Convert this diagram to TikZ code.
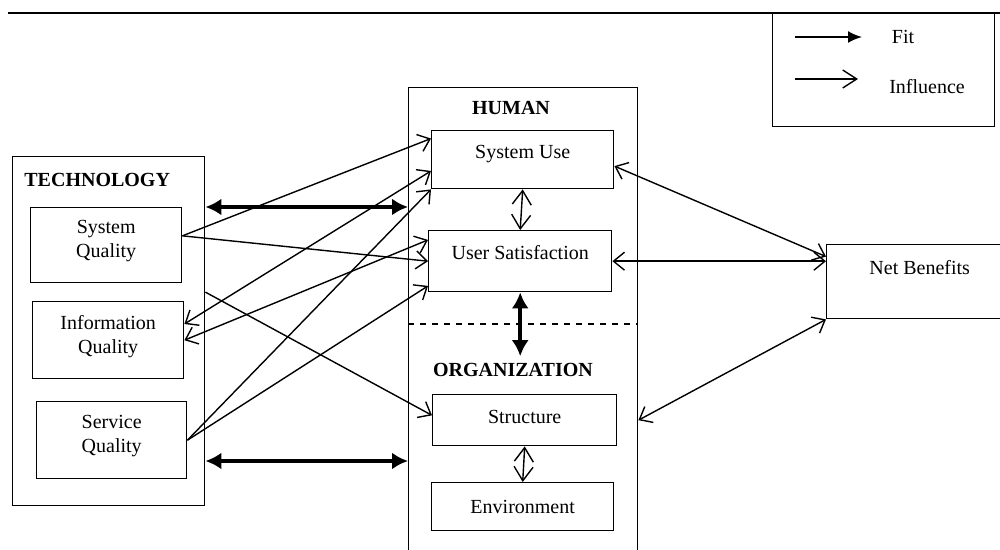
\documentclass[tikz,border=0pt]{standalone}
\usepackage{fontspec}
\setmainfont{Liberation Serif}
\usetikzlibrary{arrows.meta}
\tikzset{
	box/.style={draw, line width=0.7pt, inner sep=2pt, align=center, anchor=north west},
	qbox/.style={box, text depth=6pt},
	title/.style={font=\bfseries},
	fitarrow/.style={line width=2.2pt, {Latex[length=8pt,width=8.5pt]}-{Latex[length=8pt,width=8.5pt]}},
	inflarrow/.style={line width=0.7pt, -{Straight Barb[length=5.5pt,width=9pt]}},
	inflboth/.style={line width=0.7pt, {Straight Barb[length=5.5pt,width=9pt]}-{Straight Barb[length=5.5pt,width=9pt]}},
	linkarrow/.style={line width=0.7pt, {Straight Barb[length=7pt,width=9.5pt]}-{Straight Barb[length=7pt,width=9.5pt]}},
}
\begin{document}
\begin{tikzpicture}[x=0.5pt,y=0.5pt,yscale=-1]
			\useasboundingbox (0,0) rectangle (1000,550);

			%Straight Lines: top rule
			\draw [line width=1.1pt] (8,13) -- (1000,13);

			%Shape: Rectangle [legend]
			\node (legend) [box, minimum width=111pt, minimum height=56.5pt] at (772,13) {};
			\coordinate (fitA) at (795,37);
			\coordinate (fitB) at (862,37);
			\draw [line width=1pt, -{Latex[length=7pt,width=6pt]}] (fitA) -- (fitB);
			\coordinate (inflA) at (795,79);
			\coordinate (inflB) at (858,79);
			\draw [line width=0.7pt, -{Straight Barb[length=7pt,width=9pt]}] (inflA) -- (inflB);
			% Text Node
			\node (fitlabel) at (903,37) {Fit};
			% Text Node
			\node (infllabel) at (927,87) {Influence};

			%Shape: Rectangle [technology]
			\node (tech) [box, minimum width=96pt, minimum height=174.5pt] at (12,156) {};
			% Text Node
			\node (techtitle) [title, anchor=west, inner sep=0pt] at (24,180) {TECHNOLOGY};
			\node (sysq) [qbox, minimum width=75.5pt, minimum height=37.5pt] at (30,207) {System\\Quality};
			\node (infoq) [qbox, minimum width=75.5pt, minimum height=38.5pt] at (32,301) {Information\\Quality};
			\node (servq) [qbox, minimum width=75pt, minimum height=38.5pt] at (36,401) {Service\\Quality};

			%Shape: Rectangle [human / organization]
			\node (humorg) [box, minimum width=114.5pt, minimum height=236.5pt] at (408,87) {};
			% Text Node
			\node (humantitle) [title] at (511,108) {HUMAN};
			\node (sysuse) [box, minimum width=91pt, minimum height=29pt, text depth=8.2pt] at (431,130) {System Use};
			\node (usersat) [box, minimum width=91.5pt, minimum height=30.5pt, text depth=8.5pt] at (428,230) {User Satisfaction};
			%Straight Lines [human / organization split]
			\draw [dashed, line width=0.7pt] (humorg.west) -- (humorg.east);
			% Text Node
			\node (orgtitle) [title] at (513,370) {ORGANIZATION};
			\node (struct) [box, minimum width=92pt, minimum height=25.5pt, text depth=3.5pt] at (432,394) {Structure};
			\node (env) [box, minimum width=91pt, minimum height=24pt] at (431,482) {Environment};

			%Shape: Rectangle [net benefits]
			\node (netben) [box, minimum width=93pt, minimum height=37pt, text depth=14pt] at (826,244) {Net Benefits};

			%Fit arrows
			\coordinate (fitlow) at (300,461);
			\draw [fitarrow] (tech.east |- sysq.north) -- (humorg.west |- sysq.north);
			\draw [fitarrow] (tech.east |- fitlow) -- (humorg.west |- fitlow);
			\draw [fitarrow, line width=2pt] (usersat.south) -- (usersat.south |- orgtitle.north);

			%Influence arrows
			\draw [inflarrow] (sysq.7) -- (sysuse.167);
			\draw [inflarrow] (sysq.7) -- (usersat.west);
			\draw [inflboth] (infoq.12) -- (sysuse.187);
			\draw [inflboth] (infoq.east) -- (usersat.167);
			\draw [inflarrow] (servq.east) -- (sysuse.south west);
			\draw [inflarrow] (servq.east) -- (usersat.195);
			\draw [inflarrow] (tech.22) -- (struct.177);

			%Links inside human / organization
			\draw [linkarrow] (sysuse.south) -- (usersat.north);
			\draw [linkarrow] (struct.south) -- (env.north);

			%Net benefits arrows
			\draw [inflboth] (sysuse.-4) -- (netben.165);
			\draw [inflboth] (usersat.east) -- (usersat.east -| netben.west);
			\draw [inflboth] (netben.south west) -- (humorg.east |- struct.east);

\end{tikzpicture}
\end{document}
